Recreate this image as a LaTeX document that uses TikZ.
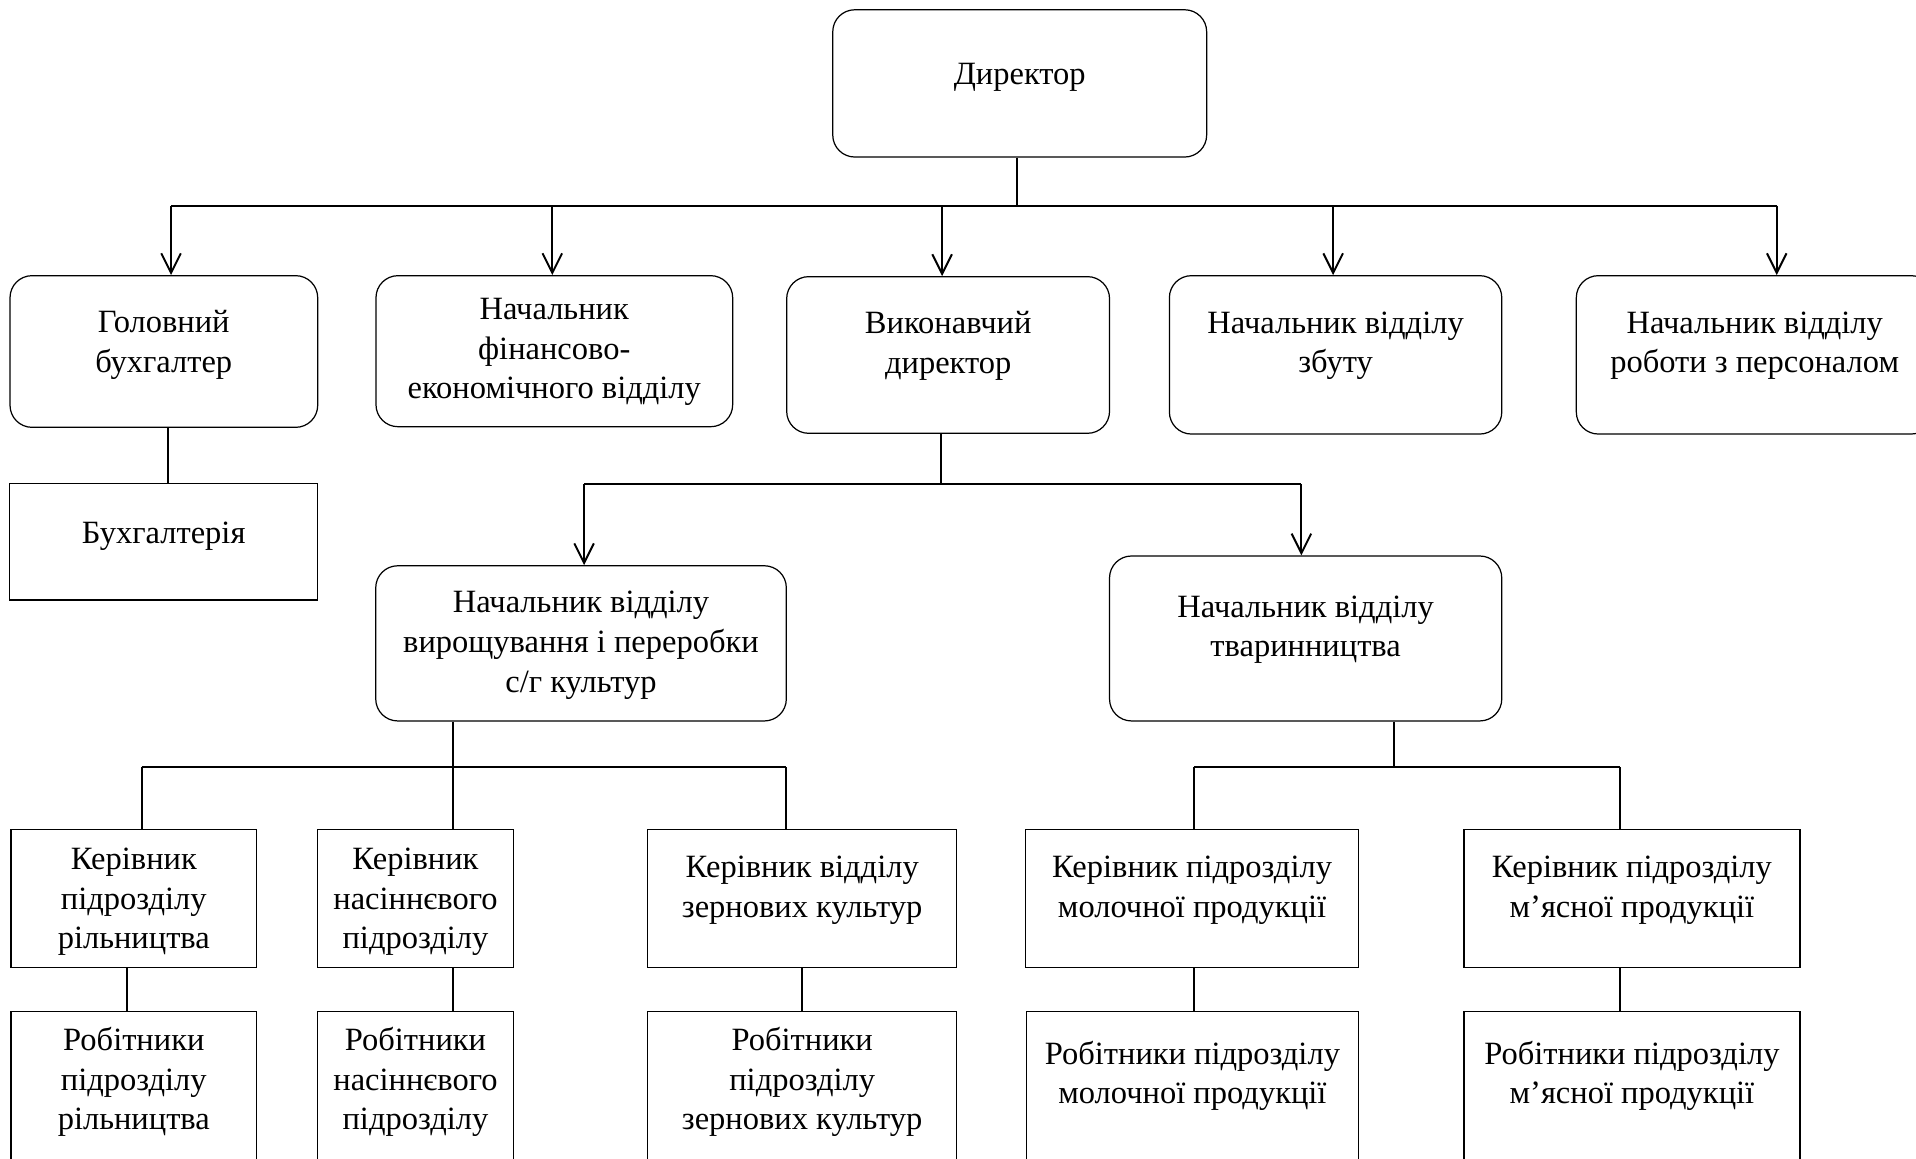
\documentclass[tikz,border=0pt]{standalone}
\usepackage{fontspec}
\setmainfont{Liberation Serif}
\usetikzlibrary{arrows.meta,fit}
\begin{document}
\begin{tikzpicture}[x=0.5pt,y=-0.5pt]
\tikzset{
  rbox/.style={draw, line width=0.5pt, rounded corners=9pt, inner sep=0pt},
  sbox/.style={draw, line width=0.5pt, inner sep=0pt},
  txt/.style={font=\fontsize{13.3}{16.2}\selectfont, align=center, inner sep=0pt,
    execute at begin node=\strut, execute at end node=\strut},
  ln/.style={line width=0.8pt},
  arr/.style={line width=0.8pt, -{Straight Barb[length=8pt,width=8pt]}}
}
\useasboundingbox (0,0) rectangle (1568,948);
\fill[white] (0,0) rectangle (1568,948);
\clip (0,0) rectangle (1568,948);

% boxes
\node[rbox, fit={(681.5,8) (987.5,128.5)}] (D) {};
\node[rbox, fit={(8.2,225.6) (260,349.7)}] (G) {};
\node[rbox, fit={(307.7,225.6) (599.6,349.2)}] (F) {};
\node[rbox, fit={(643.8,226.4) (908,354.6)}] (V) {};
\node[rbox, fit={(957,225.6) (1229,355.2)}] (Z) {};
\node[rbox, fit={(1290,225.6) (1582,355.2)}] (P) {};
\node[sbox, fit={(8,395.6) (260,491)}] (B) {};
\node[rbox, fit={(307.5,463) (643.5,590)}] (R) {};
\node[rbox, fit={(908,455) (1229,590)}] (T) {};
\node[sbox, fit={(9,679) (210,791.7)}] (K1) {};
\node[sbox, fit={(260,679) (420,791.7)}] (K2) {};
\node[sbox, fit={(530,679) (783,791.7)}] (K3) {};
\node[sbox, fit={(839.5,679) (1111.5,791.7)}] (K4) {};
\node[sbox, fit={(1198,679) (1473,791.7)}] (K5) {};
\node[sbox, fit={(9,828) (210,975)}] (W1) {};
\node[sbox, fit={(260,828) (420,975)}] (W2) {};
\node[sbox, fit={(530,828) (783,975)}] (W3) {};
\node[sbox, fit={(840,828) (1111.5,975)}] (W4) {};
\node[sbox, fit={(1198,828) (1473,975)}] (W5) {};

% texts
\node[txt] (Dt) at (834.5,63) {Директор};
\node[txt] (Gt) at (134,284) {Головний\\бухгалтер};
\node[txt] (Ft) at (453.6,290) {Начальник\\фінансово-\\економічного відділу};
\node[txt] (Vt) at (776,285) {Виконавчий\\директор};
\node[txt] (Zt) at (1093,285) {Начальник відділу\\збуту};
\node[txt] (Pt) at (1436,285) {Начальник відділу\\роботи з персоналом};
\node[txt] (Bt) at (134,438.5) {Бухгалтерія};
\node[txt] (Rt) at (475.5,530) {Начальник відділу\\вирощування і переробки\\с/г культур};
\node[txt] (Tt) at (1068.5,517.5) {Начальник відділу\\тваринництва};
\node[txt] (K1t) at (109.5,740) {Керівник\\підрозділу\\рільництва};
\node[txt] (K2t) at (340,740) {Керівник\\насіннєвого\\підрозділу};
\node[txt] (K3t) at (656.5,730.5) {Керівник відділу\\зернових культур};
\node[txt] (K4t) at (975.5,730.5) {Керівник підрозділу\\молочної продукції};
\node[txt] (K5t) at (1335.5,730.5) {Керівник підрозділу\\м’ясної продукції};
\node[txt] (W1t) at (109.5,887.5) {Робітники\\підрозділу\\рільництва};
\node[txt] (W2t) at (340,887.5) {Робітники\\насіннєвого\\підрозділу};
\node[txt] (W3t) at (656.5,887.5) {Робітники\\підрозділу\\зернових культур};
\node[txt] (W4t) at (975.8,882.5) {Робітники підрозділу\\молочної продукції};
\node[txt] (W5t) at (1335.5,882.5) {Робітники підрозділу\\м’ясної продукції};

% level 1 bus
\coordinate (b1) at (832,168.3);
\coordinate (a1) at (140,168.3);
\coordinate (a2) at (452,168.3);
\coordinate (a3) at (771,168.3);
\coordinate (a4) at (1091,168.3);
\coordinate (a5) at (1454,168.3);
\draw[ln] (D.south -| b1) -- (b1);
\draw[ln] (a1) -- (a5);
\draw[arr] (a1) -- (a1 |- G.north);
\draw[arr] (a2) -- (a2 |- F.north);
\draw[arr] (a3) -- (a3 |- V.north);
\draw[arr] (a4) -- (a4 |- Z.north);
\draw[arr] (a5) -- (a5 |- P.north);

% chief accountant
\coordinate (gx) at (137.8,0);
\draw[ln] (G.south -| gx) -- (B.north -| gx);

% executive director
\coordinate (b2) at (770,396);
\coordinate (c1) at (478,396);
\coordinate (c2) at (1065,396);
\draw[ln] (V.south -| b2) -- (b2);
\draw[ln] (c1) -- (c2);
\draw[arr] (c1) -- (c1 |- R.north);
\draw[arr] (c2) -- (c2 |- T.north);

% crops
\coordinate (b3) at (371,628);
\coordinate (d1) at (116,628);
\coordinate (d3) at (643,628);
\draw[ln] (R.south -| b3) -- (b3);
\draw[ln] (d1) -- (d3);
\draw[ln] (d1) -- (d1 |- K1.north);
\draw[ln] (b3) -- (b3 |- K2.north);
\draw[ln] (d3) -- (d3 |- K3.north);

% livestock
\coordinate (b4) at (1141,628);
\coordinate (e1) at (977,628);
\coordinate (e2) at (1326,628);
\draw[ln] (T.south -| b4) -- (b4);
\draw[ln] (e1) -- (e2);
\draw[ln] (e1) -- (e1 |- K4.north);
\draw[ln] (e2) -- (e2 |- K5.north);

% managers to workers
\coordinate (f1) at (104,0);
\coordinate (f2) at (371,0);
\coordinate (f3) at (656,0);
\coordinate (f4) at (977.5,0);
\coordinate (f5) at (1326,0);
\draw[ln] (K1.south -| f1) -- (W1.north -| f1);
\draw[ln] (K2.south -| f2) -- (W2.north -| f2);
\draw[ln] (K3.south -| f3) -- (W3.north -| f3);
\draw[ln] (K4.south -| f4) -- (W4.north -| f4);
\draw[ln] (K5.south -| f5) -- (W5.north -| f5);
\end{tikzpicture}
\end{document}
